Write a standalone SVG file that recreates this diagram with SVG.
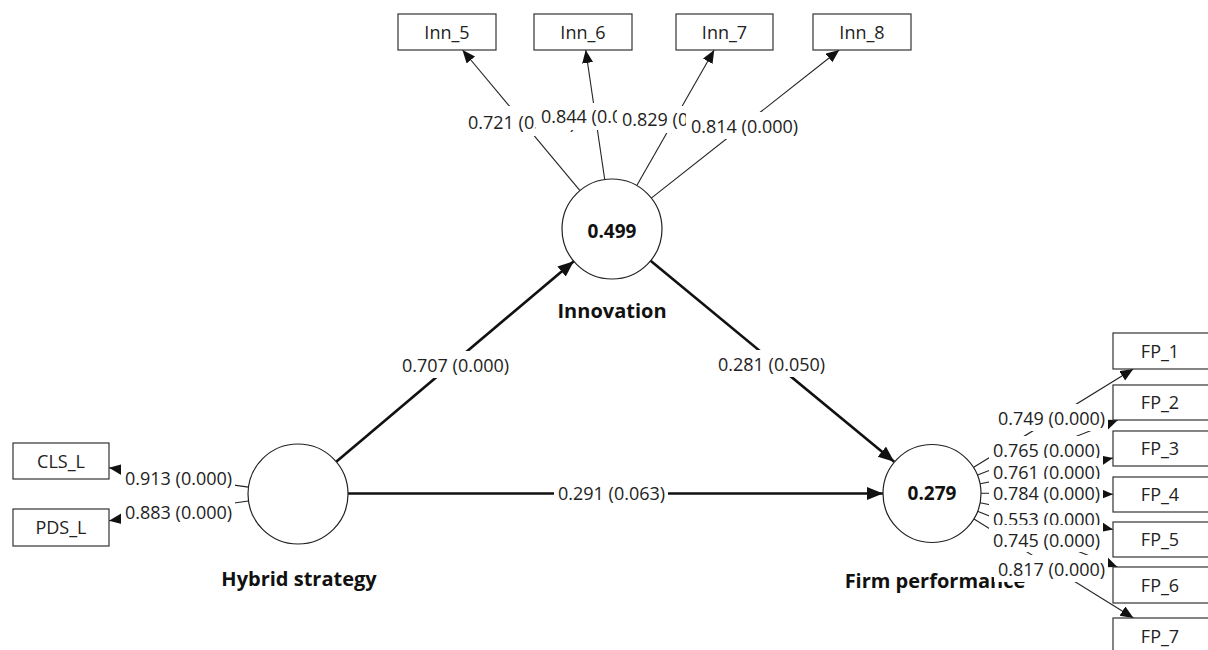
<svg xmlns="http://www.w3.org/2000/svg" width="1208" height="650" viewBox="0 0 1208 650">
<style>
.box{fill:#fff;stroke:#333;stroke-width:1.2}
.lv{fill:#fff;stroke:#222;stroke-width:1.2}
.t{font-family:"Open Sans","Noto Sans",sans-serif;font-size:18px;fill:#222}
.bt{font-family:"Open Sans","Noto Sans",sans-serif;font-size:19px;font-weight:bold;fill:#111}
.nl{font-family:"Open Sans","Noto Sans",sans-serif;font-size:20px;font-weight:bold;fill:#111}
.thin{stroke:#222;stroke-width:1.1;fill:none;marker-end:url(#a1)}
.thick{stroke:#111;stroke-width:2.6;fill:none;marker-end:url(#a2)}
.lb{fill:#fff}
</style>
<defs>
<marker id="a1" markerUnits="userSpaceOnUse" markerWidth="14" markerHeight="12" refX="13" refY="5.5" orient="auto"><path d="M0,0 L13,5.5 L0,11 z" fill="#111"/></marker>
<marker id="a2" markerUnits="userSpaceOnUse" markerWidth="17" markerHeight="14" refX="16" refY="6.5" orient="auto"><path d="M0,0 L16,6.5 L0,13 z" fill="#111"/></marker>
</defs>
<rect width="1208" height="650" fill="#fff"/>

<g id="connectors">
<line class="thin" x1="580" y1="190.6" x2="462.5" y2="50"/>
<line class="thin" x1="604.7" y1="179.5" x2="585.7" y2="50"/>
<line class="thin" x1="636.8" y1="185.6" x2="714.2" y2="50"/>
<line class="thin" x1="651.3" y1="198.1" x2="839.2" y2="50"/>
<line class="thin" x1="248.5" y1="487.1" x2="109" y2="467.7"/>
<line class="thin" x1="248.5" y1="501" x2="109" y2="520.7"/>
<line class="thin" x1="973.7" y1="467.3" x2="1133.3" y2="369"/>
<line class="thin" x1="977.6" y1="475.1" x2="1117.9" y2="420"/>
<line class="thin" x1="980.1" y1="483.7" x2="1113" y2="458.1"/>
<line class="thin" x1="981" y1="493.3" x2="1113" y2="494.2"/>
<line class="thin" x1="980" y1="502.7" x2="1113" y2="529.5"/>
<line class="thin" x1="977.5" y1="511.2" x2="1117.4" y2="567"/>
<line class="thin" x1="973.6" y1="518.8" x2="1133.5" y2="618"/>
<line class="thick" x1="336.2" y1="461.8" x2="573.8" y2="261.2"/>
<line class="thick" x1="650.6" y1="260.8" x2="894.2" y2="461.8"/>
<line class="thick" x1="348" y1="493.5" x2="883" y2="493.5"/>
</g>

<g id="node-innovation">
<circle class="lv" cx="612" cy="229" r="50"/>
<text class="bt" x="612" y="238" text-anchor="middle">0.499</text>
<text class="nl" x="612" y="318" text-anchor="middle">Innovation</text>
</g>
<g id="node-hybrid">
<circle class="lv" cx="298" cy="494" r="50"/>
<text class="nl" x="299" y="586" text-anchor="middle">Hybrid strategy</text>
</g>
<g id="node-firm">
<circle class="lv" cx="932" cy="493.5" r="49"/>
<text class="bt" x="932" y="500" text-anchor="middle">0.279</text>
<text class="nl" x="935" y="588" text-anchor="middle">Firm performance</text>
</g>
<g id="node-inn5"><rect class="box" x="398" y="14" width="98" height="36"/><text class="t" x="447" y="38.5" text-anchor="middle">Inn_5</text></g>
<g id="node-inn6"><rect class="box" x="534" y="14" width="98" height="36"/><text class="t" x="583" y="38.5" text-anchor="middle">Inn_6</text></g>
<g id="node-inn7"><rect class="box" x="676" y="14" width="97" height="36"/><text class="t" x="724.5" y="38.5" text-anchor="middle">Inn_7</text></g>
<g id="node-inn8"><rect class="box" x="813" y="14" width="98" height="36"/><text class="t" x="862" y="38.5" text-anchor="middle">Inn_8</text></g>
<g id="node-cls"><rect class="box" x="13" y="443" width="96" height="36"/><text class="t" x="61" y="467.5" text-anchor="middle">CLS_L</text></g>
<g id="node-pds"><rect class="box" x="13" y="509" width="96" height="37"/><text class="t" x="61" y="534" text-anchor="middle">PDS_L</text></g>
<g id="node-fp1"><rect class="box" x="1113" y="333" width="99" height="36"/><text class="t" x="1160" y="357.5" text-anchor="middle">FP_1</text></g>
<g id="node-fp2"><rect class="box" x="1113" y="385" width="99" height="35"/><text class="t" x="1160" y="409" text-anchor="middle">FP_2</text></g>
<g id="node-fp3"><rect class="box" x="1113" y="431" width="99" height="35"/><text class="t" x="1160" y="455" text-anchor="middle">FP_3</text></g>
<g id="node-fp4"><rect class="box" x="1113" y="477" width="99" height="35"/><text class="t" x="1160" y="501" text-anchor="middle">FP_4</text></g>
<g id="node-fp5"><rect class="box" x="1113" y="522" width="99" height="35"/><text class="t" x="1160" y="546" text-anchor="middle">FP_5</text></g>
<g id="node-fp6"><rect class="box" x="1113" y="567" width="99" height="36"/><text class="t" x="1160" y="591.5" text-anchor="middle">FP_6</text></g>
<g id="node-fp7"><rect class="box" x="1113" y="618" width="99" height="36"/><text class="t" x="1160" y="642.5" text-anchor="middle">FP_7</text></g>

<g id="connector-labels">
<rect class="lb" x="463" y="106" width="114" height="30"/><text class="t" x="468" y="129">0.721 (0.000)</text>
<rect class="lb" x="536" y="103" width="114" height="27"/><text class="t" x="541" y="123">0.844 (0.000)</text>
<rect class="lb" x="617" y="106" width="114" height="27"/><text class="t" x="622" y="126">0.829 (0.000)</text>
<rect class="lb" x="686" y="112" width="114" height="27"/><text class="t" x="691" y="133">0.814 (0.000)</text>
<rect class="lb" x="398" y="351" width="114" height="27"/><text class="t" x="402" y="372">0.707 (0.000)</text>
<rect class="lb" x="714" y="350" width="114" height="27"/><text class="t" x="718" y="371">0.281 (0.050)</text>
<rect class="lb" x="554" y="479" width="114" height="27"/><text class="t" x="558" y="500">0.291 (0.063)</text>
<rect class="lb" x="121" y="464" width="114" height="27"/><text class="t" x="125" y="485">0.913 (0.000)</text>
<rect class="lb" x="121" y="498" width="114" height="27"/><text class="t" x="125" y="519">0.883 (0.000)</text>
<rect class="lb" x="994" y="404" width="114" height="27"/><text class="t" x="998" y="425">0.749 (0.000)</text>
<rect class="lb" x="989" y="436" width="114" height="27"/><text class="t" x="993" y="457">0.765 (0.000)</text>
<rect class="lb" x="989" y="458" width="114" height="27"/><text class="t" x="993" y="479">0.761 (0.000)</text>
<rect class="lb" x="989" y="479" width="114" height="27"/><text class="t" x="993" y="500">0.784 (0.000)</text>
<rect class="lb" x="989" y="505" width="114" height="27"/><text class="t" x="993" y="526">0.553 (0.000)</text>
<rect class="lb" x="989" y="525" width="114" height="27"/><text class="t" x="993" y="547">0.745 (0.000)</text>
<rect class="lb" x="994" y="555" width="114" height="27"/><text class="t" x="998" y="576">0.817 (0.000)</text>
</g>
</svg>
